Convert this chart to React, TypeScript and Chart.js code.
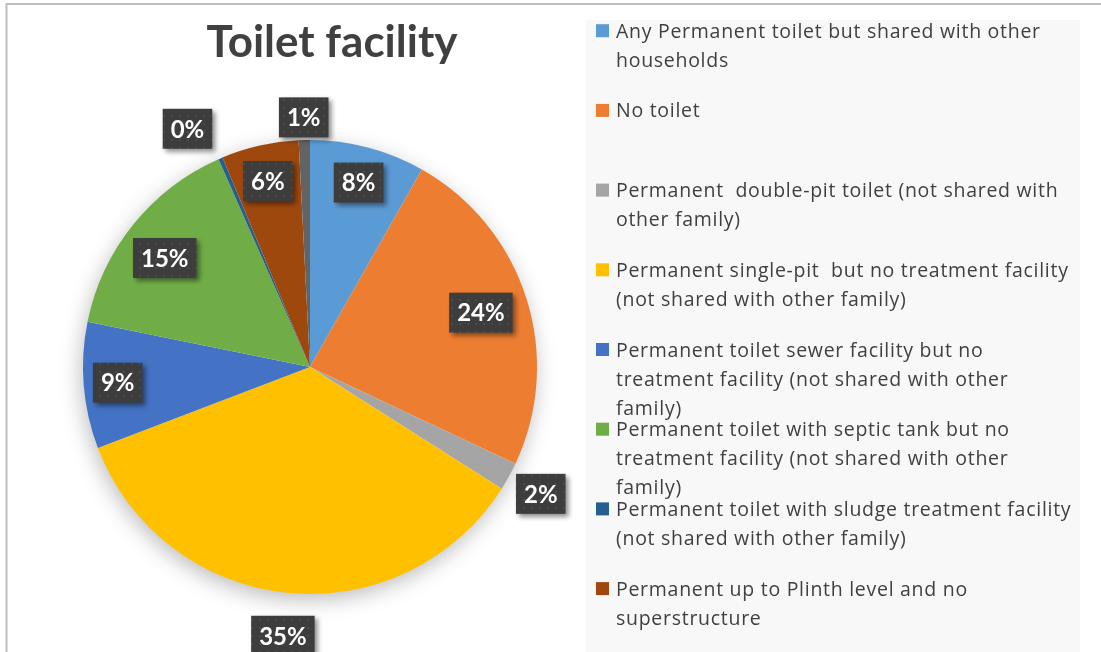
import React, { useEffect, useRef } from "react";
import { Chart, registerables } from "chart.js";

Chart.register(...registerables);

const chartTitle = "Toilet facility";

const categories = [
  "Any Permanent toilet but shared with other households",
  "No toilet",
  "Permanent  double-pit toilet (not shared with other family)",
  "Permanent single-pit  but no treatment facility (not shared with other family)",
  "Permanent toilet sewer facility but no treatment facility (not shared with other family)",
  "Permanent toilet with septic tank but no treatment facility (not shared with other family)",
  "Permanent toilet with sludge treatment facility (not shared with other family)",
  "Permanent up to Plinth level and no superstructure",
  "",
];

const shares = [8.2, 23.8, 2.0, 35.2, 9.0, 15.2, 0.3, 5.5, 0.8];

const legendLines = [
  ["Any Permanent toilet but shared with other", "households"],
  ["No toilet"],
  ["Permanent  double-pit toilet (not shared with", "other family)"],
  ["Permanent single-pit  but no treatment facility", "(not shared with other family)"],
  ["Permanent toilet sewer facility but no", "treatment facility (not shared with other", "family)"],
  ["Permanent toilet with septic tank but no", "treatment facility (not shared with other", "family)"],
  ["Permanent toilet with sludge treatment facility", "(not shared with other family)"],
  ["Permanent up to Plinth level and no", "superstructure"],
];

const sliceColors = [
  "#5B9BD5",
  "#ED7D31",
  "#A5A5A5",
  "#FFC000",
  "#4472C4",
  "#70AD47",
  "#255E91",
  "#9E480E",
  "#636363",
];

// label distance from centre, as a fraction of the radius (style)
const labelRadius = [0.84, 0.79, 1.16, 1.19, 0.85, 0.8, 1.18, 0.84, 1.1];
// small angular nudge of a label, in degrees (style)
const labelNudge = [0, 0, 0, 0, 0, -2, -4, 0, 0];

const TEXT = "#404040";
const FONT = "Lato, 'Open Sans', sans-serif";
const LEGEND_FONT = "'Open Sans', Lato, sans-serif";

function makePattern(ctx: CanvasRenderingContext2D) {
  const c = document.createElement("canvas");
  c.width = 8;
  c.height = 8;
  const p = c.getContext("2d")!;
  p.fillStyle = "#3d3d3d";
  p.fillRect(0, 0, 8, 8);
  p.fillStyle = "#4b4b4b";
  p.fillRect(3, 3, 2, 2);
  return ctx.createPattern(c, "repeat") || "#3d3d3d";
}

const decorPlugin = {
  id: "decor",
  beforeDraw(chart: any) {
    const ctx: CanvasRenderingContext2D = chart.ctx;
    const W = chart.width;
    const H = chart.height;
    ctx.save();
    ctx.fillStyle = "#ffffff";
    ctx.fillRect(0, 0, W, H);
    // frame
    ctx.strokeStyle = "#c0c0c0";
    ctx.lineWidth = 2;
    ctx.beginPath();
    ctx.moveTo(6.5, H);
    ctx.lineTo(6.5, 4);
    ctx.lineTo(W, 4);
    ctx.stroke();
    // legend background
    ctx.fillStyle = "#f8f8f8";
    ctx.fillRect(586, 20, 494, H - 20);
    // title
    ctx.fillStyle = TEXT;
    ctx.font = `bold 44px ${FONT}`;
    ctx.textAlign = "center";
    ctx.textBaseline = "alphabetic";
    ctx.fillText(chartTitle, 332, 57);
    // legend
    ctx.font = `19.5px ${LEGEND_FONT}`;
    (ctx as any).letterSpacing = "0.72px";
    ctx.textAlign = "left";
    legendLines.forEach((lines, i) => {
      const base = 37.7 + i * 79.7;
      ctx.fillStyle = sliceColors[i];
      ctx.fillRect(596, base - 13.5, 13, 13);
      ctx.fillStyle = TEXT;
      lines.forEach((ln, j) => {
        ctx.fillText(ln, 616, base + j * 29);
      });
    });
    (ctx as any).letterSpacing = "0px";
    ctx.restore();
  },
  beforeDatasetsDraw(chart: any) {
    const ctx: CanvasRenderingContext2D = chart.ctx;
    const arc = chart.getDatasetMeta(0).data[0];
    if (!arc) return;
    const { x, y, outerRadius } = arc.getProps(["x", "y", "outerRadius"], true);
    ctx.save();
    ctx.shadowColor = "rgba(0,0,0,0.28)";
    ctx.shadowBlur = 22;
    ctx.shadowOffsetX = -2;
    ctx.shadowOffsetY = 6;
    ctx.fillStyle = "#ffffff";
    ctx.beginPath();
    ctx.arc(x, y, outerRadius - 1, 0, Math.PI * 2);
    ctx.fill();
    ctx.restore();
  },
  afterDatasetsDraw(chart: any) {
    const ctx: CanvasRenderingContext2D = chart.ctx;
    const meta = chart.getDatasetMeta(0);
    const data: number[] = chart.data.datasets[0].data;
    const total = data.reduce((a, b) => a + b, 0);
    const pattern = makePattern(ctx);
    ctx.save();
    ctx.font = `bold 24px ${FONT}`;
    ctx.textAlign = "center";
    ctx.textBaseline = "middle";
    meta.data.forEach((el: any, i: number) => {
      const { x, y, startAngle, endAngle, outerRadius } = el.getProps(
        ["x", "y", "startAngle", "endAngle", "outerRadius"],
        true
      );
      const mid = (startAngle + endAngle) / 2 + (labelNudge[i] * Math.PI) / 180;
      const r = outerRadius * labelRadius[i];
      const lx = x + Math.cos(mid) * r;
      const ly = y + Math.sin(mid) * r;
      const txt = `${Math.round((data[i] / total) * 100)}%`;
      const w = ctx.measureText(txt).width + 16;
      const h = 40;
      ctx.save();
      ctx.shadowColor = "rgba(0,0,0,0.45)";
      ctx.shadowBlur = 5;
      ctx.shadowOffsetX = 3;
      ctx.shadowOffsetY = 3;
      ctx.fillStyle = pattern;
      ctx.fillRect(lx - w / 2, ly - h / 2, w, h);
      ctx.restore();
      ctx.fillStyle = "#ffffff";
      ctx.fillText(txt, lx, ly + 1);
    });
    ctx.restore();
  },
};

export default function App() {
  const ref = useRef<HTMLCanvasElement | null>(null);
  useEffect(() => {
    if (!ref.current) return;
    const chart = new Chart(ref.current, {
      type: "pie",
      data: {
        labels: categories,
        datasets: [
          {
            data: shares,
            backgroundColor: sliceColors,
            borderWidth: 0,
            hoverOffset: 0,
          },
        ],
      },
      options: {
        responsive: false,
        animation: false,
        layout: { padding: { left: 83, right: 564, top: 140, bottom: 58 } },
        plugins: {
          legend: { display: false },
          title: { display: false },
          tooltip: { enabled: false },
        },
      },
      plugins: [decorPlugin],
    });
    return () => chart.destroy();
  }, []);
  return (
    <canvas
      ref={ref}
      width={1101}
      height={652}
      style={{ position: "absolute", left: 0, top: 0, width: 1101, height: 652 }}
    />
  );
}
